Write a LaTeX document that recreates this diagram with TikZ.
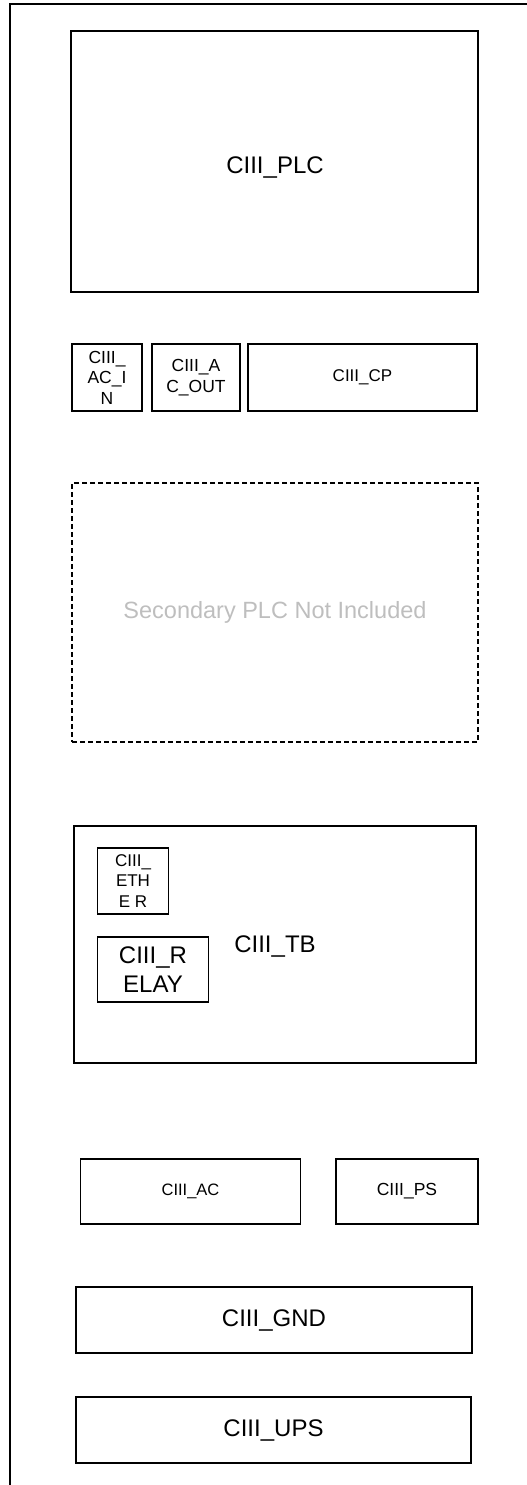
\documentclass[tikz,border=0pt]{standalone}
\usepackage{fontspec}
\setmainfont{Liberation Sans}
\definecolor{ghost}{RGB}{190,190,190}
\tikzset{
  box/.style={draw=black, line width=1.3pt, rectangle, inner sep=0pt, align=center},
  big/.style={font=\fontsize{24}{28}\selectfont},
  small/.style={font=\fontsize{17}{20.5}\selectfont},
  lbl/.style={inner sep=0pt, align=center},
}
\begin{document}
\begin{tikzpicture}[x=1pt,y=-1pt]
\useasboundingbox (0,0) rectangle (527,1485);
% outer frame
\coordinate (ftr) at (530,4);
\coordinate (ftl) at (10,4);
\coordinate (fbl) at (10,1490);
\draw[line width=1.3pt] (ftr) -- (ftl) -- (fbl);
% PLC
\node[box, minimum width=407pt, minimum height=261pt] (plc) at (274.5,161.5) {};
\node[lbl, big] (plclbl) at (275,168) {CIII\_PLC};
% row of three
\node[box, font=\fontsize{17.5}{20.5}\selectfont, minimum width=70pt, minimum height=67pt] (acin) at (107,377.5) {CIII\_\\AC\_I\\N};
\node[box, font=\fontsize{17.5}{20.5}\selectfont, minimum width=88pt, minimum height=67pt] (acout) at (196,377.5) {CIII\_A\\C\_OUT};
\node[box, small, minimum width=229pt, minimum height=67pt] (cp) at (362.5,377.5) {CIII\_CP};
% dashed placeholder
\node[box, line width=1.2pt, dash pattern=on 5pt off 3pt, minimum width=406pt, minimum height=259pt, text=ghost, font=\fontsize{23.5}{27}\selectfont] (sec) at (275,612.5) {Secondary PLC Not Included};
% TB
\node[box, minimum width=402pt, minimum height=237pt] (tb) at (275,944.5) {};
\node[lbl, big] (tblbl) at (275,946) {CIII\_TB};
\node[box, small, minimum width=71pt, minimum height=66pt] (eth) at (133,881) {CIII\_\\ETH\\E R};
\node[box, font=\fontsize{24}{29}\selectfont, minimum width=111pt, minimum height=65pt] (relay) at (153,969.5) {CIII\_R\\ELAY};
% AC / PS
\node[box, font=\fontsize{16.5}{20}\selectfont, minimum width=220pt, minimum height=65pt] (ac) at (190.5,1191.5) {CIII\_AC};
\node[box, font=\fontsize{17.5}{20}\selectfont, minimum width=142pt, minimum height=65pt] (ps) at (407,1191.5) {CIII\_PS};
% GND / UPS
\node[box, big, minimum width=396pt, minimum height=66pt] (gnd) at (274,1320) {CIII\_GND};
\node[box, big, minimum width=395pt, minimum height=66pt] (ups) at (273.5,1430) {CIII\_UPS};
\end{tikzpicture}
\end{document}
